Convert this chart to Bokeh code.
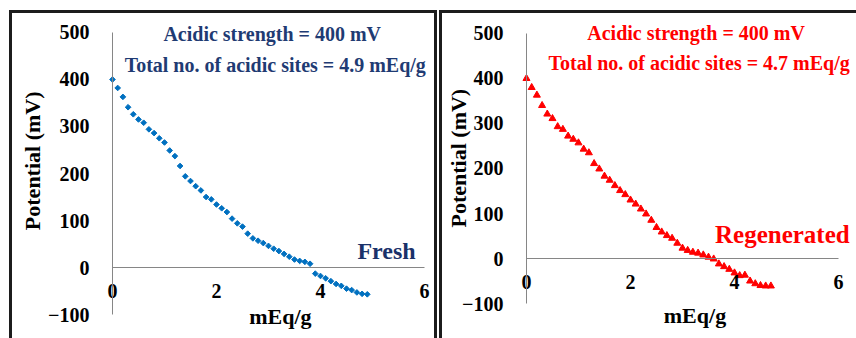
from bokeh.plotting import figure
from bokeh.layouts import row
from bokeh.models import Range1d, FixedTicker, Label
from bokeh.embed import file_html
from bokeh.resources import INLINE

# ---------------- data ----------------
fresh_x = [0.0, 0.1, 0.2, 0.3, 0.4, 0.5, 0.6, 0.7, 0.8, 0.9,
           1.0, 1.1, 1.2, 1.3, 1.4, 1.5, 1.6, 1.7, 1.8, 1.9,
           2.0, 2.1, 2.2, 2.3, 2.4, 2.5, 2.6, 2.7, 2.8, 2.9,
           3.0, 3.1, 3.2, 3.3, 3.4, 3.5, 3.6, 3.7, 3.8, 3.9,
           4.0, 4.1, 4.2, 4.3, 4.4, 4.5, 4.6, 4.7, 4.8, 4.9]
fresh_y = [400, 382, 363, 341, 326, 315, 308, 294, 286, 275,
           266, 249, 237, 216, 194, 184, 173, 164, 150, 145,
           134, 126, 118, 104, 94, 87, 72, 62, 57, 52,
           46, 40, 35, 29, 23, 17, 14, 12, 8, -13,
           -18, -23, -29, -35, -39, -45, -48, -53, -56, -57]

regen_x = [0.0, 0.1, 0.2, 0.3, 0.4, 0.5, 0.6, 0.7, 0.8, 0.9,
           1.0, 1.1, 1.2, 1.3, 1.4, 1.5, 1.6, 1.7, 1.8, 1.9,
           2.0, 2.1, 2.2, 2.3, 2.4, 2.5, 2.6, 2.7, 2.8, 2.9,
           3.0, 3.1, 3.2, 3.3, 3.4, 3.5, 3.6, 3.7, 3.8, 3.9,
           4.0, 4.1, 4.2, 4.3, 4.4, 4.5, 4.6, 4.7]
regen_y = [400, 380, 363, 340, 321, 311, 293, 287, 272, 265,
           257, 243, 235, 211, 199, 183, 174, 162, 151, 142,
           130, 121, 110, 99, 85, 69, 59, 51, 45, 34,
           23, 18, 14, 12, 8, 3, -1, -12, -18, -24,
           -32, -38, -37, -50, -56, -60, -61, -61]

x_ticks = [0, 2, 4, 6]
y_ticks = [-100, 0, 100, 200, 300, 400, 500]
x_title = "mEq/g"
y_title = "Potential (mV)"
fresh_texts = ["Acidic  strength = 400 mV", "Total no. of acidic sites = 4.9 mEq/g", "Fresh"]
regen_texts = ["Acidic  strength = 400 mV", "Total no. of acidic sites = 4.7 mEq/g", "Regenerated"]

FONT = "Liberation Serif"
AXIS_GRAY = "#868686"
BORDER = "3px solid #1c1c1c"


def make_panel(width, height, xr, yr, styles, margin):
    p = figure(width=width, height=height, output_backend="svg", toolbar_location=None,
               x_range=Range1d(*xr), y_range=Range1d(*yr),
               min_border=0, styles=styles, margin=margin)
    p.outline_line_color = None
    p.grid.visible = False
    p.background_fill_color = "white"
    p.border_fill_color = "white"

    # x axis crossing at y = 0
    xa = p.xaxis[0]
    xa.fixed_location = 0
    xa.bounds = (0, 6)
    xa.ticker = FixedTicker(ticks=x_ticks)
    xa.axis_line_color = AXIS_GRAY
    xa.major_tick_line_color = None
    xa.minor_tick_line_color = None
    xa.major_label_text_font = FONT
    xa.major_label_text_font_style = "bold"
    xa.major_label_text_font_size = "20px"
    xa.major_label_text_color = "black"
    xa.major_label_standoff = 10

    # y axis crossing at x = 0
    ya = p.yaxis[0]
    ya.fixed_location = 0
    ya.bounds = (-100, 500)
    ya.ticker = FixedTicker(ticks=y_ticks)
    ya.axis_line_color = AXIS_GRAY
    ya.major_tick_line_color = None
    ya.minor_tick_line_color = None
    ya.major_label_text_font = FONT
    ya.major_label_text_font_style = "bold"
    ya.major_label_text_font_size = "20px"
    ya.major_label_text_color = "black"
    ya.major_label_standoff = 17
    return p


def add_text(p, x, y, text, size, color, angle=0.0):
    p.add_layout(Label(x=x, y=y, text=text, text_align="center", text_baseline="middle", angle=angle,
                       text_font=FONT, text_font_style="bold", text_font_size=size, text_color=color))


# left panel: Fresh
p1 = make_panel(428, 328, (-1.923, 6.308), (-157.4, 540.4),
                {"border-top": BORDER, "border-left": BORDER, "border-right": BORDER},
                (10, 0, 0, 9))
p1.scatter(fresh_x, fresh_y, marker="square", angle=0.785, size=4,
           fill_color="#0070C0", line_color="#0070C0")
navy = "#1F3B73"
add_text(p1, 3.12, 496, fresh_texts[0], "20px", navy)
add_text(p1, 3.13, 431, fresh_texts[1], "20px", navy)
add_text(p1, 5.27, 36, fresh_texts[2], "24px", "#1A326A")
add_text(p1, 3.23, -105, x_title, "22px", "black")
add_text(p1, -1.54, 227, y_title, "22px", "black", angle=1.5708)

# right panel: Regenerated
p2 = make_panel(417, 328, (-1.615, 6.404), (-184.4, 544.4),
                {"border-top": BORDER, "border-left": BORDER},
                (10, 0, 0, 2))
p2.scatter(regen_x, regen_y, marker="triangle", size=7,
           fill_color="#FF0000", line_color="#FF0000")
add_text(p2, 3.31, 502, regen_texts[0], "20px", "#FF0000")
add_text(p2, 3.32, 434, regen_texts[1], "20px", "#FF0000")
add_text(p2, 4.92, 53, regen_texts[2], "25px", "#FF0000")
add_text(p2, 3.24, -127, x_title, "22px", "black")
add_text(p2, -1.31, 223, y_title, "22px", "black", angle=1.5708)

layout = row(p1, p2, spacing=0)
open("out.html", "w").write(file_html(layout, INLINE))
